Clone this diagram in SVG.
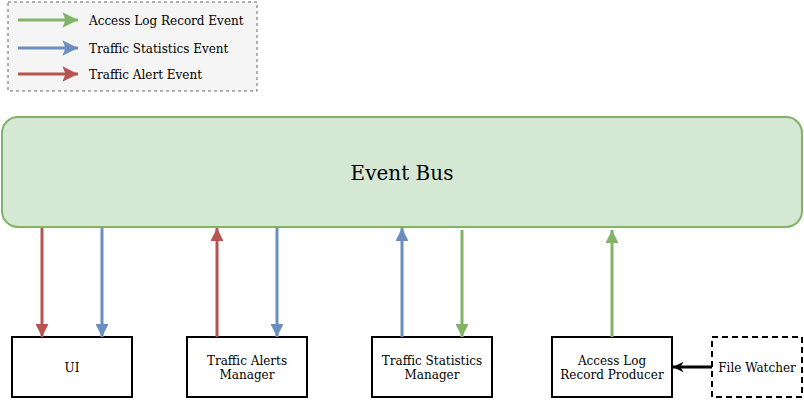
<svg xmlns="http://www.w3.org/2000/svg" width="804" height="400" viewBox="0 0 804 400">
<defs>
<style>
text{font-family:"DejaVu Serif",serif;fill:#000;}
.lg{font-size:12px;}
.nd{font-size:12px;text-anchor:middle;}
.box{fill:#fff;stroke:#000;stroke-width:2;}
.r{stroke:#b85450;stroke-width:3;fill:none;}
.b{stroke:#6c8ebf;stroke-width:3;fill:none;}
.g{stroke:#82b366;stroke-width:3;fill:none;}
.k{stroke:#000;stroke-width:3;fill:none;}
</style>
<marker id="mr" viewBox="0 0 10 10" refX="10" refY="5" markerWidth="4.3" markerHeight="4.3" markerUnits="strokeWidth" orient="auto"><path d="M0,0L10,5L0,10Z" fill="#b85450"/></marker>
<marker id="mb" viewBox="0 0 10 10" refX="10" refY="5" markerWidth="4.3" markerHeight="4.3" markerUnits="strokeWidth" orient="auto"><path d="M0,0L10,5L0,10Z" fill="#6c8ebf"/></marker>
<marker id="mg" viewBox="0 0 10 10" refX="10" refY="5" markerWidth="4.3" markerHeight="4.3" markerUnits="strokeWidth" orient="auto"><path d="M0,0L10,5L0,10Z" fill="#82b366"/></marker>
<marker id="lr" viewBox="0 0 10 10" refX="10" refY="5" markerWidth="5.2" markerHeight="5.2" markerUnits="strokeWidth" orient="auto"><path d="M0,0L10,5L0,10L2,5Z" fill="#b85450"/></marker>
<marker id="lb" viewBox="0 0 10 10" refX="10" refY="5" markerWidth="5.2" markerHeight="5.2" markerUnits="strokeWidth" orient="auto"><path d="M0,0L10,5L0,10L2,5Z" fill="#6c8ebf"/></marker>
<marker id="lg" viewBox="0 0 10 10" refX="10" refY="5" markerWidth="5.2" markerHeight="5.2" markerUnits="strokeWidth" orient="auto"><path d="M0,0L10,5L0,10L2,5Z" fill="#82b366"/></marker>
<marker id="mk" viewBox="0 0 10 10" refX="10" refY="5" markerWidth="3.5" markerHeight="3.5" markerUnits="strokeWidth" orient="auto"><path d="M0,0L10,5L0,10L3,5Z" fill="#000"/></marker>
</defs>
<g id="legend">
<rect x="8" y="2" width="249" height="89" fill="#f5f5f5" stroke="#666" stroke-dasharray="3 3"/>
<line class="g" x1="18" y1="20" x2="78" y2="20" marker-end="url(#lg)"/>
<line class="b" x1="18" y1="48" x2="78" y2="48" marker-end="url(#lb)"/>
<line class="r" x1="18" y1="74" x2="78" y2="74" marker-end="url(#lr)"/>
<text class="lg" x="89" y="25">Access Log Record Event</text>
<text class="lg" x="89" y="53">Traffic Statistics Event</text>
<text class="lg" x="89" y="79">Traffic Alert Event</text>
</g>
<g id="eventbus">
<rect x="2" y="117" width="800" height="110" rx="16" ry="16" fill="#d5e8d4" stroke="#82b366" stroke-width="2"/>
<text x="402" y="180" font-size="20" text-anchor="middle">Event Bus</text>
</g>
<g id="ui">
<rect class="box" x="12" y="337" width="120" height="60"/>
<text class="nd" x="72" y="372">UI</text>
</g>
<g id="alerts">
<rect class="box" x="187" y="337" width="120" height="60"/>
<text class="nd" x="247" y="365">Traffic Alerts</text>
<text class="nd" x="247" y="379">Manager</text>
</g>
<g id="stats">
<rect class="box" x="372" y="337" width="120" height="60"/>
<text class="nd" x="432" y="365">Traffic Statistics</text>
<text class="nd" x="432" y="379">Manager</text>
</g>
<g id="producer">
<rect class="box" x="552" y="337" width="120" height="60"/>
<text class="nd" x="612" y="365">Access Log</text>
<text class="nd" x="612" y="379">Record Producer</text>
</g>
<g id="watcher">
<rect x="712" y="337" width="90" height="60" fill="#fff" stroke="#000" stroke-width="2" stroke-dasharray="6 4"/>
<text class="nd" x="757" y="372">File Watcher</text>
</g>
<g id="connectors">
<line class="r" x1="42" y1="228" x2="42" y2="337" marker-end="url(#mr)"/>
<line class="b" x1="102" y1="228" x2="102" y2="337" marker-end="url(#mb)"/>
<line class="r" x1="217" y1="337" x2="217" y2="228" marker-end="url(#mr)"/>
<line class="b" x1="277" y1="228" x2="277" y2="337" marker-end="url(#mb)"/>
<line class="b" x1="402" y1="337" x2="402" y2="228" marker-end="url(#mb)"/>
<line class="g" x1="462" y1="230" x2="462" y2="337" marker-end="url(#mg)"/>
<line class="g" x1="612" y1="337" x2="612" y2="230" marker-end="url(#mg)"/>
<line class="k" x1="712" y1="367" x2="673" y2="367" marker-end="url(#mk)"/>
</g>
</svg>
